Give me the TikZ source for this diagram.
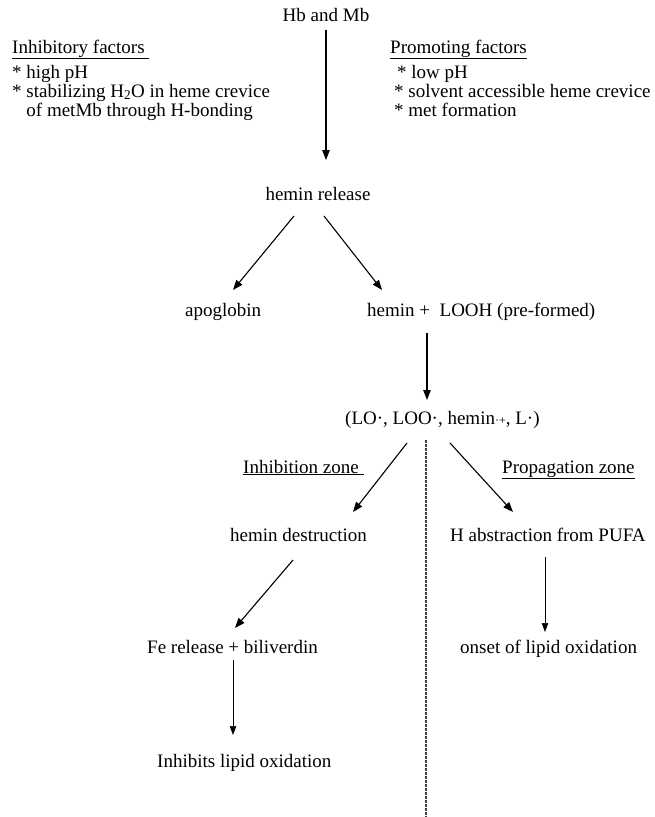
\documentclass[tikz,border=0pt]{standalone}
\usepackage{fontspec}
\setmainfont{Liberation Serif}
\usetikzlibrary{arrows.meta}
\begin{document}
\begin{tikzpicture}[x=1pt,y=1pt,
  txt/.style={inner sep=0pt, anchor=base west, font=\fontsize{19}{19}\selectfont},
  ctxt/.style={inner sep=0pt, anchor=base, font=\fontsize{19}{19}\selectfont},
  thick arrow/.style={line width=1.1pt, -{Triangle[length=10pt,width=7.5pt]}},
  thin arrow/.style={line width=0.6pt, -{Triangle[length=9pt,width=6.5pt]}},
  zone/.style={line width=1.2pt, dash pattern=on 2.5pt off 1.5pt, black!75}
]
\useasboundingbox (0,0) rectangle (655,-817);
% top
\node[ctxt] (hb) at (326,-21) {Hb and Mb};
\node[txt] (inh) at (12,-53) {\underline{Inhibitory factors\ }};
\node[txt] (l1) at (12,-78) {* high pH};
\node[txt] (l2) at (12,-97) {* stabilizing H\textsubscript{2}O in heme crevice};
\node[txt] (l3) at (12,-116) {\phantom{* }of metMb through H-bonding};
\node[txt] (pro) at (390,-53) {\underline{Promoting factors}};
\node[txt] (r1) at (397,-78) {* low pH};
\node[txt] (r2) at (394,-97) {* solvent accessible heme crevice};
\node[txt] (r3) at (394,-116) {* met formation};
\coordinate (a0) at (326,-30);
\coordinate (a0e) at (326,-160);
\draw[thick arrow] (a0) -- (a0e);
% hemin release
\node[ctxt] (hr) at (318,-200) {hemin release};
\coordinate (h1) at (294,-216);
\coordinate (h2) at (324,-216);
\node[txt] (apo) at (185,-316) {apoglobin};
\node[txt] (hl) at (367,-316) {hemin +\ \ LOOH (pre-formed)};
\coordinate (t1) at (233,-290);
\coordinate (t2) at (382,-290);
\draw[thick arrow] (h1) -- (t1);
\draw[thick arrow] (h2) -- (t2);
\coordinate (b1) at (427,-333);
\coordinate (b1e) at (427,-400);
\draw[thick arrow] (b1) -- (b1e);
\node[txt] (rad) at (345,-424) {(LO\textperiodcentered, LOO\textperiodcentered, hemin{\fontsize{12}{12}\selectfont\textperiodcentered+}, L\textperiodcentered)};
% zones
\coordinate (d0) at (426,-440);
\coordinate (d1) at (426,-817);
\draw[zone] (d0) -- (d1);
\node[txt] (iz) at (243,-473) {\underline{Inhibition zone\ }};
\node[txt] (pz) at (502,-473) {\underline{Propagation zone}};
\coordinate (c1) at (407,-443);
\coordinate (c2) at (450,-443);
\coordinate (e1) at (353,-512);
\coordinate (e2) at (513,-512);
\draw[thick arrow] (c1) -- (e1);
\draw[thick arrow] (c2) -- (e2);
\node[txt] (hd) at (230,-541) {hemin destruction};
\node[txt] (ha) at (450,-541) {H abstraction from PUFA};
\coordinate (f1) at (293,-560);
\coordinate (f1e) at (235,-628);
\draw[thick arrow] (f1) -- (f1e);
\coordinate (g1) at (545,-557);
\coordinate (g1e) at (545,-632);
\draw[thin arrow] (g1) -- (g1e);
\node[txt] (fe) at (147,-653) {Fe release + biliverdin};
\node[txt] (on) at (460,-653) {onset of lipid oxidation};
\coordinate (k1) at (233,-660);
\coordinate (k1e) at (233,-735);
\draw[thin arrow] (k1) -- (k1e);
\node[txt] (il) at (157,-767) {Inhibits lipid oxidation};
\end{tikzpicture}
\end{document}
